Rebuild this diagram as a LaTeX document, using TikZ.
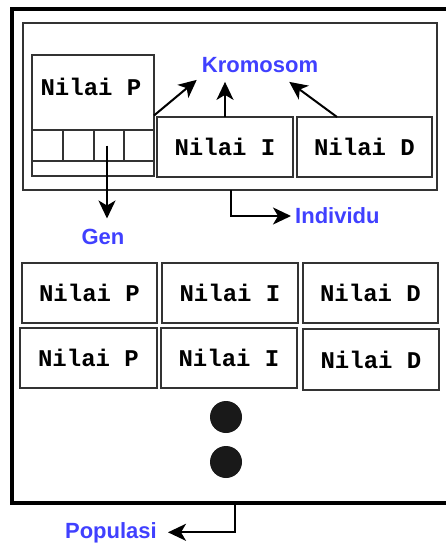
\documentclass[tikz,border=0pt]{standalone}
\usepackage{fontspec}
\setmainfont{Liberation Sans}
\newfontfamily\monof{Liberation Mono}
\usetikzlibrary{arrows.meta}
\definecolor{lblue}{RGB}{64,64,255}
\begin{document}
\begin{tikzpicture}[x=1pt,y=-1pt,
 box/.style={draw=black!80,line width=2pt,inner sep=0pt,outer sep=0pt,anchor=north west,font=\monof\bfseries\fontsize{24}{24}\selectfont},
 lab/.style={text=lblue,font=\bfseries\fontsize{22}{22}\selectfont,inner sep=2pt},
 arr/.style={line width=2pt,-{Stealth[length=18pt,width=17pt,inset=5pt]}},
 dotn/.style={circle,fill=black!90,minimum size=32pt,inner sep=0pt}]
\useasboundingbox (0,0) rectangle (445,543);
% population
\node[draw,line width=4pt,minimum width=446pt,minimum height=494pt,anchor=north west,inner sep=0pt,outer sep=0pt] (pop) at (12,9) {};
% individual
\node[box,minimum width=414pt,minimum height=167pt] (ind) at (23,23) {};
\node[box,minimum width=122pt,minimum height=121pt] (P) at (32,55) {};
\node[font=\monof\bfseries\fontsize{24}{24}\selectfont,inner sep=0pt] (ptext) at (91,87) {Nilai P};
\node[box,minimum width=31pt,minimum height=31pt] (g1) at (32,130) {};
\node[box,minimum width=31pt,minimum height=31pt] (g2) at (63,130) {};
\node[box,minimum width=30pt,minimum height=31pt] (g3) at (94,130) {};
\node[box,minimum width=30pt,minimum height=31pt] (g4) at (124,130) {};
\node[box,minimum width=136pt,minimum height=60pt] (I) at (157,117) {Nilai I};
\node[box,minimum width=135pt,minimum height=60pt] (D) at (297,117) {Nilai D};
% rows
\node[box,minimum width=135pt,minimum height=60pt] (r1p) at (22,263) {Nilai P};
\node[box,minimum width=136pt,minimum height=60pt] (r1i) at (162,263) {Nilai I};
\node[box,minimum width=135pt,minimum height=60pt] (r1d) at (303,263) {Nilai D};
\node[box,minimum width=137pt,minimum height=60pt] (r2p) at (20,328) {Nilai P};
\node[box,minimum width=136pt,minimum height=60pt] (r2i) at (161,328) {Nilai I};
\node[box,minimum width=136pt,minimum height=61pt] (r2d) at (303,329) {Nilai D};
% dots
\node[dotn] (dot1) at (226,417) {};
\node[dotn] (dot2) at (226,462) {};
% labels
\node[lab] (krom) at (260,65) {Kromosom};
\node[lab] (gen) at (103,237) {Gen};
\node[lab,anchor=west] (indiv) at (293,216) {Individu};
\node[lab,anchor=base east] (popl) at (159,538) {Populasi};
% arrows
\draw[arr] (P.east) -- ([shift={(-3,5)}]krom.south west);
\draw[arr] (I.north) -- ([yshift=-7pt]I.north |- krom.south);
\draw[arr] ([xshift=-27.5pt]D.north) -- ([shift={(-31,7)}]krom.south east);
\draw[arr] ([xshift=-2pt]g3.center) -- ++(0,73);
\draw[arr] ([xshift=1pt]ind.south) |- ([xshift=-2pt]indiv.west);
\draw[arr] (pop.south) |- ([xshift=9pt]popl.east);
\end{tikzpicture}
\end{document}
